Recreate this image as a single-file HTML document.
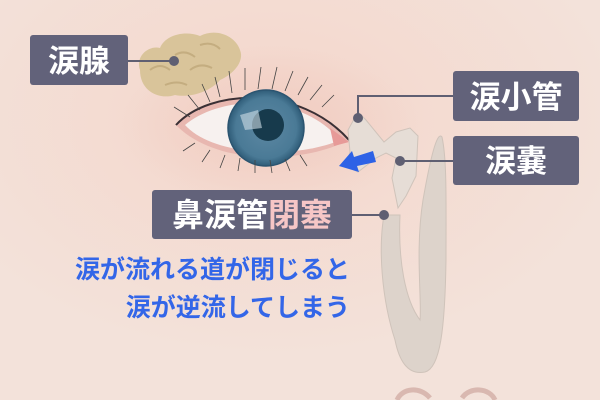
<!DOCTYPE html>
<html><head><meta charset="utf-8"><style>
html,body{margin:0;padding:0;width:600px;height:400px;overflow:hidden;background:#f4dfd5}
svg{display:block}
.lb{font-family:"Liberation Sans","Noto Sans CJK JP",sans-serif;font-weight:bold;fill:#fff}
.bl{font-family:"Liberation Sans","Noto Sans CJK JP",sans-serif;font-weight:bold;fill:#3366e8;font-size:25px}
</style></head><body>
<svg width="600" height="400" viewBox="0 0 600 400">
<defs>
<radialGradient id="bg" cx="0.45" cy="0.3" r="0.6"><stop offset="0" stop-color="#f4d6cb"/><stop offset="1" stop-color="#f3e2da"/></radialGradient>
<radialGradient id="iris" cx="0.5" cy="0.5" r="0.5"><stop offset="0" stop-color="#5d88a3"/><stop offset="0.8" stop-color="#4a7a96"/><stop offset="1" stop-color="#2f5c78"/></radialGradient>
<radialGradient id="blush" cx="0.5" cy="0.5" r="0.5"><stop offset="0" stop-color="#f0c8bd" stop-opacity="0.8"/><stop offset="1" stop-color="#f0c8bd" stop-opacity="0"/></radialGradient>
</defs>
<rect width="600" height="400" fill="url(#bg)"/>
<ellipse cx="270" cy="125" rx="150" ry="80" fill="url(#blush)"/>
<!-- gland -->
<path d="M140,70 C135,55 150,45 160,48 C165,35 185,30 200,36 C215,28 235,35 240,50 C245,62 232,75 220,80 C210,92 190,98 175,95 C160,100 140,92 140,70Z" fill="#d9c49a"/>
<path d="M150,70 q10,-8 20,0 M175,55 q10,-6 20,2 M200,45 q12,-4 20,4 M165,85 q12,-5 22,0 M190,70 q10,-8 22,-2" stroke="#c4ad80" fill="none" stroke-width="2"/>
<!-- eye -->
<path d="M176,125 C210,88 300,85 349,140 C300,165 215,165 176,125Z" fill="#e8b7b0"/>
<path d="M185,125 C220,95 300,92 340,140 C300,158 215,158 185,125Z" fill="#f7f1ef"/>
<path d="M176,125 C210,88 300,85 349,140" stroke="#3a3035" stroke-width="2" fill="none"/>
<path d="M330,128 L349,142 L334,146Z" fill="#e79a98"/>
<circle cx="266" cy="128" r="38" fill="url(#iris)"/>
<circle cx="266" cy="128" r="38" fill="none" stroke="#2b5470" stroke-width="1.5"/>
<circle cx="268" cy="125" r="16" fill="#173a4c"/>
<path d="M240,115 L258,110 L262,128 L245,130Z" fill="#cfdde6" opacity="0.6"/>
<g stroke="#444" stroke-width="0.8" fill="none">
<path d="M200,110 l-12,-15 M210,102 l-8,-18 M220,97 l-5,-20 M232,93 l-3,-22 M245,90 l0,-22 M258,89 l3,-22 M272,89 l5,-22 M285,91 l8,-20 M298,95 l10,-18 M310,100 l12,-15 M322,107 l12,-12 M190,117 l-16,-10"/>
<path d="M210,150 l-8,12 M225,155 l-5,13 M240,158 l-2,13 M255,160 l0,13 M270,160 l2,13 M285,159 l5,12 M300,155 l7,11 M195,143 l-12,8"/>
</g>
<!-- duct -->
<path d="M348,130 l10,-18 l8,8 l18,22 l12,-10 l14,-4 l8,8 l-2,40 l-10,20 l-8,12 l-6,-30 l4,-20 l-10,-5 l-10,5 l-18,14 l-12,-6 l4,-14Z" fill="#e6ddd6" stroke="#cfc3ba" stroke-width="1"/>
<path d="M384,215 C378,250 382,300 395,340 C400,365 410,375 425,372 C440,368 445,330 446,260 C446,200 447,160 442,137 C437,130 430,160 423,200 C415,250 422,300 420,320 C405,300 398,260 400,215Z" fill="#ddd3cb" stroke="#cfc3ba" stroke-width="1"/>
<path d="M397,400 C402,388 420,386 430,398 M462,398 C470,386 490,388 495,400" stroke="#d9b8b0" stroke-width="5" fill="none"/>
<!-- arrow -->
<path d="M373,151 L376,162 L357,166 L359,172 L339,166 L352,151 L354,157Z" fill="#2d62e6"/>
<!-- connectors -->
<g stroke="#5f5f72" stroke-width="2" fill="none">
<path d="M128,61 L174,61"/><path d="M453,96 L358,96 L358,118"/><path d="M453,161 L400,161"/><path d="M352,215 L384,215"/>
</g>
<g fill="#5f5f72"><circle cx="174" cy="61" r="5"/><circle cx="358" cy="118" r="5"/><circle cx="400" cy="161" r="5"/><circle cx="384" cy="215" r="5"/></g>
<!-- boxes -->
<g fill="#62627a">
<rect x="30" y="35" width="98" height="50" rx="3"/>
<rect x="453" y="71" width="126" height="50" rx="3"/>
<rect x="453" y="136" width="126" height="49" rx="3"/>
<rect x="152" y="190" width="200" height="49" rx="3"/>
</g>
<text class="lb" x="79" y="72" font-size="31" text-anchor="middle">涙腺</text>
<text class="lb" x="516" y="108" font-size="31" text-anchor="middle">涙小管</text>
<text class="lb" x="516" y="172" font-size="31" text-anchor="middle">涙嚢</text>
<text class="lb" x="252" y="226" font-size="32" text-anchor="middle">鼻涙管<tspan fill="#f6c6c6">閉塞</tspan></text>
<text class="bl" x="350" y="278" text-anchor="end">涙が流れる道が閉じると</text>
<text class="bl" x="350" y="316" text-anchor="end">涙が逆流してしまう</text>
</svg>
</body></html>
